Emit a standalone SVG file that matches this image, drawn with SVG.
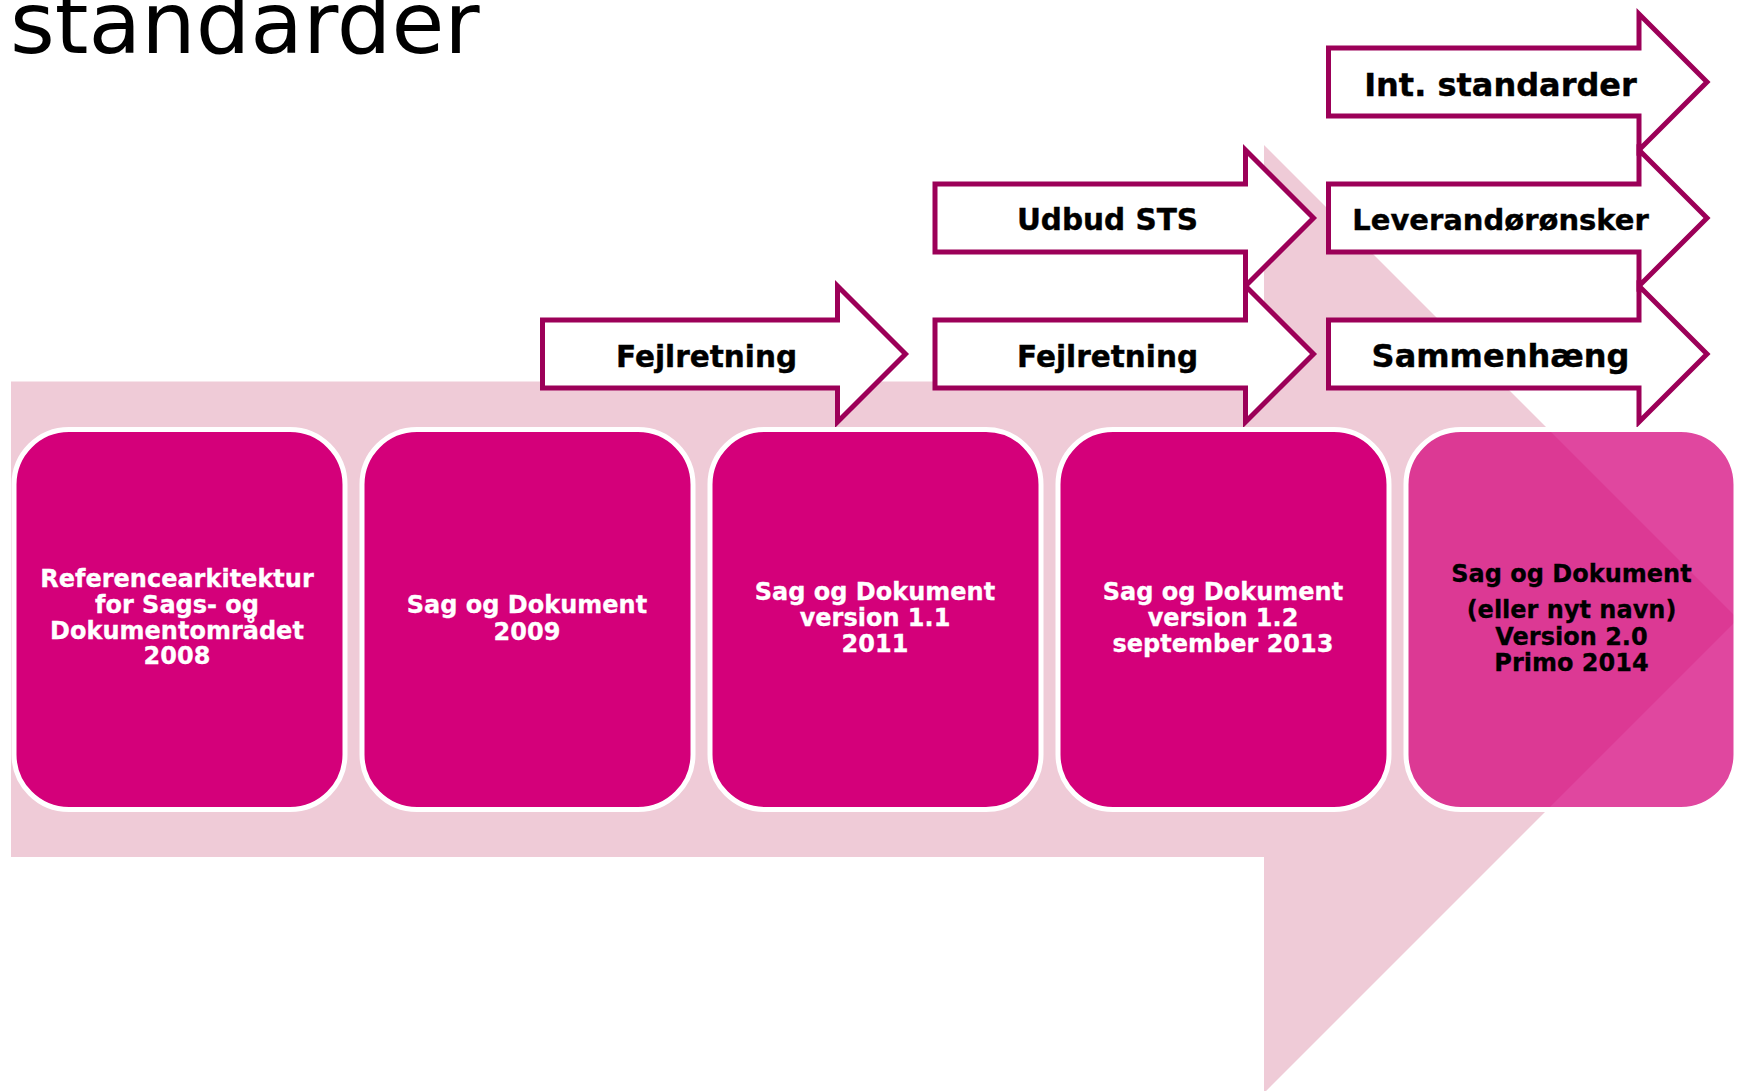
<svg xmlns="http://www.w3.org/2000/svg" width="1737" height="1091" viewBox="0 0 1737 1091">
<style>
.box{fill:#D4007A;stroke:#FFFFFF;stroke-width:5}
.box5{fill:#D4007A;fill-opacity:0.72;stroke:#FFFFFF;stroke-width:5}
.arr{fill:#FFFFFF;stroke:#9C0058;stroke-width:5;stroke-linejoin:miter;stroke-miterlimit:10}
.bt{font-family:"DejaVu Sans",Verdana,sans-serif;font-weight:bold;font-size:24px;fill:#FFFFFF;text-anchor:middle;stroke:#FFFFFF;stroke-width:0.3}
.bt5{font-family:"DejaVu Sans",Verdana,sans-serif;font-weight:bold;font-size:24px;fill:#000000;text-anchor:middle;stroke:#000000;stroke-width:0.3}
.at{font-family:"DejaVu Sans",Verdana,sans-serif;font-weight:bold;font-size:29.5px;fill:#000000;text-anchor:middle;stroke:#000000;stroke-width:0.4}
</style>
<rect x="0" y="0" width="1737" height="1091" fill="#FFFFFF"/>
<text x="10" y="53" font-family="'DejaVu Sans',Verdana,sans-serif" font-size="86" fill="#000000">standarder</text>
<g id="timeline">
<polygon points="11,381.5 1264,381.5 1264,145 1738,619 1264,1093 1264,857 11,857" fill="#EFCBD7"/>
</g>
<g id="connectors">
<g id="arrow-fejl1">
<path class="arr" d="M542.5,320 H837.5 V286 L905.5,354 L837.5,422 V388 H542.5 Z"/>
<text class="at" x="706.5" y="366.5">Fejlretning</text>
</g>
<g id="arrow-udbud">
<path class="arr" d="M935,184 H1245.5 V150 L1313.5,218 L1245.5,286 V252 H935 Z"/>
<text class="at" x="1107.5" y="229.5">Udbud STS</text>
</g>
<g id="arrow-fejl2">
<path class="arr" d="M935,320 H1245.5 V286 L1313.5,354 L1245.5,422 V388 H935 Z"/>
<text class="at" x="1107.5" y="366.5">Fejlretning</text>
</g>
<g id="arrow-int">
<path class="arr" d="M1328.5,48 H1639 V14 L1707,82 L1639,150 V116 H1328.5 Z"/>
<text class="at" x="1500.5" y="95.5" style="font-size:32px">Int. standarder</text>
</g>
<g id="arrow-lev">
<path class="arr" d="M1328.5,184 H1639 V150 L1707,218 L1639,286 V252 H1328.5 Z"/>
<text class="at" x="1500.5" y="230" style="font-size:29px">Leverandørønsker</text>
</g>
<g id="arrow-sam">
<path class="arr" d="M1328.5,320 H1639 V286 L1707,354 L1639,422 V388 H1328.5 Z"/>
<text class="at" x="1500.5" y="367" style="font-size:32px">Sammenhæng</text>
</g>
</g>
<g id="node1">
<rect class="box" x="14" y="429.5" width="331" height="380" rx="55" ry="55"/>
<text class="bt" x="177" y="587">Referencearkitektur</text>
<text class="bt" x="177" y="613">for Sags- og</text>
<text class="bt" x="177" y="639">Dokumentområdet</text>
<text class="bt" x="177" y="664">2008</text>
</g>
<g id="node2">
<rect class="box" x="362" y="429.5" width="331" height="380" rx="55" ry="55"/>
<text class="bt" x="527" y="613">Sag og Dokument</text>
<text class="bt" x="527" y="640">2009</text>
</g>
<g id="node3">
<rect class="box" x="710" y="429.5" width="331" height="380" rx="55" ry="55"/>
<text class="bt" x="875" y="600">Sag og Dokument</text>
<text class="bt" x="875" y="626">version 1.1</text>
<text class="bt" x="875" y="652">2011</text>
</g>
<g id="node4">
<rect class="box" x="1058" y="429.5" width="331" height="380" rx="55" ry="55"/>
<text class="bt" x="1223" y="600">Sag og Dokument</text>
<text class="bt" x="1223" y="626">version 1.2</text>
<text class="bt" x="1223" y="652">september 2013</text>
</g>
<g id="node5">
<rect class="box5" x="1406" y="429.5" width="330" height="380" rx="55" ry="55"/>
<text class="bt5" x="1571.5" y="582">Sag og Dokument</text>
<text class="bt5" x="1571.5" y="618">(eller nyt navn)</text>
<text class="bt5" x="1571.5" y="645">Version 2.0</text>
<text class="bt5" x="1571.5" y="671">Primo 2014</text>
</g>
</svg>
